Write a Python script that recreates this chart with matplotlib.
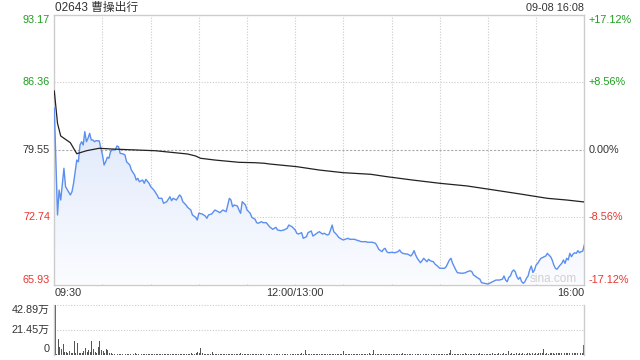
import numpy as np
import matplotlib
matplotlib.use('Agg')
import matplotlib.pyplot as plt
from matplotlib.colors import LinearSegmentedColormap

plt.rcParams['font.family'] = ['Liberation Sans', 'Noto Sans CJK SC', 'DejaVu Sans']

# ---- data ----
title = '02643 曹操出行'
stamp = '09-08 16:08'
prev_close = 79.55
left_ticks = [93.17, 86.36, 79.55, 72.74, 65.93]
right_ticks = ['+17.12%', '+8.56%', '0.00%', '-8.56%', '-17.12%']
time_labels = ['09:30', '12:00/13:00', '16:00']
time_pos = [0, 150, 330]
vol_ticks = [42.89, 21.45, 0]
vol_tick_labels = ['42.89万', '21.45万', '0']

# minute since 09:30 (lunch removed), price
price_min = [0, 2, 3, 4, 6, 7, 10, 11, 12, 14, 15, 16, 17, 18, 19, 20, 21, 22, 23, 24,
             25, 26, 28, 29, 30, 31, 32, 33, 34, 35, 36, 38, 39, 40, 41, 43, 44, 45, 47, 48,
             50, 51, 52, 53, 55, 56, 57, 59, 60, 62, 64, 65, 67, 68, 70, 72, 73, 74, 76, 78,
             79, 80, 82, 83, 85, 86, 88, 89, 90, 92, 94, 95, 96, 98, 100, 102, 103, 105, 107, 108,
             109, 110, 111, 112, 114, 115, 116, 117, 119, 120, 122, 123, 125, 126, 127, 129, 130, 132, 134, 136,
             138, 139, 141, 143, 145, 146, 148, 150, 151, 152, 154, 155, 157, 158, 160, 161, 162, 164, 165, 167,
             168, 170, 171, 172, 173, 174, 175, 176, 177, 179, 180, 181, 183, 184, 187, 188, 190, 191, 194, 195,
             198, 200, 201, 202, 204, 205, 206, 207, 208, 210, 212, 214, 215, 216, 217, 219, 220, 222, 223, 224,
             225, 226, 228, 229, 230, 232, 233, 234, 236, 237, 239, 240, 243, 244, 246, 247, 248, 249, 250, 251,
             254, 256, 257, 259, 260, 261, 262, 263, 265, 266, 268, 270, 271, 273, 275, 277, 279, 280, 281, 282,
             283, 284, 285, 286, 287, 288, 289, 290, 291, 292, 293, 294, 295, 296, 297, 298, 299, 300, 301, 302,
             303, 304, 305, 306, 307, 308, 309, 310, 311, 312, 313, 314, 315, 316, 317, 318, 319, 320, 321, 322,
             323, 324, 325, 326, 327, 328, 329, 330]
price = [83.74, 72.96, 75.48, 74.47, 77.68, 75.82, 74.98, 75.31, 76.16, 78.51, 78.34, 80.03, 80.36, 80.03, 81.38, 80.36, 80.71, 81.21, 80.54, 80.54,
         80.36, 80.47, 80.44, 79.70, 79.02, 78.01, 78.34, 78.79, 78.69, 79.35, 79.53, 79.53, 79.93, 79.86, 79.19, 79.12, 79.02, 78.34, 78.01, 77.50,
         77.00, 76.49, 76.66, 76.32, 76.49, 76.16, 76.56, 76.16, 75.82, 75.48, 74.98, 74.64, 74.64, 74.14, 74.30, 74.80, 74.40, 74.64, 74.47, 74.98,
         74.80, 74.30, 73.97, 73.73, 73.46, 72.96, 72.72, 72.45, 73.13, 73.06, 72.85, 72.62, 72.96, 73.06, 73.46, 73.29, 73.19, 73.46, 73.29, 73.97,
         74.64, 74.47, 73.79, 73.97, 73.86, 73.46, 73.13, 74.30, 73.97, 73.46, 73.13, 72.72, 72.52, 72.18, 72.12, 72.28, 72.18, 72.18, 71.77, 71.51,
         71.71, 71.44, 71.37, 71.44, 71.61, 71.94, 71.77, 71.44, 71.11, 71.03, 71.17, 70.60, 70.76, 71.17, 71.34, 70.83, 70.93, 71.17, 71.27, 71.03,
         71.11, 70.93, 71.00, 71.44, 71.94, 71.27, 71.11, 70.93, 70.70, 70.50, 70.43, 70.50, 70.60, 70.50, 70.50, 70.43, 70.33, 70.26, 70.26, 70.20,
         70.20, 70.09, 69.82, 69.49, 69.25, 69.49, 69.59, 69.25, 69.14, 69.18, 69.14, 69.25, 69.42, 69.18, 69.08, 69.01, 69.01, 68.81, 69.01, 69.35,
         68.91, 68.58, 68.13, 68.34, 68.58, 68.23, 68.48, 68.34, 68.23, 68.00, 67.73, 67.57, 67.57, 67.73, 68.41, 68.58, 68.07, 67.73, 67.40, 67.12,
         67.06, 67.12, 67.22, 67.32, 67.22, 66.89, 66.79, 66.66, 66.46, 66.11, 66.05, 65.98, 66.05, 66.21, 66.38, 66.38, 66.46, 66.79, 66.38, 66.21,
         66.66, 66.79, 67.22, 67.40, 67.22, 66.72, 66.46, 66.66, 66.21, 66.05, 66.21, 66.56, 66.79, 67.40, 67.80, 67.14, 67.40, 67.90, 68.07, 68.34,
         68.58, 68.65, 68.74, 68.81, 69.08, 68.90, 68.74, 68.41, 67.90, 67.57, 67.47, 67.70, 67.90, 68.07, 68.41, 68.07, 68.58, 68.41, 69.08, 68.74,
         69.01, 69.14, 69.08, 69.35, 69.14, 69.25, 69.30, 69.92]

avg_min = [0, 2, 4, 10, 12, 14, 20, 28, 35, 63, 83, 88, 91, 100, 115, 125, 131, 134, 151, 165,
           180, 197, 207, 223, 240, 257, 271, 290, 307, 319, 330]
avg_price = [85.49, 82.22, 80.94, 80.26, 79.70, 79.15, 79.45, 79.70, 79.63, 79.45, 79.12, 78.92, 78.69, 78.51, 78.28, 78.24, 78.18, 78.11, 77.84, 77.50,
             77.23, 77.07, 76.83, 76.49, 76.16, 75.89, 75.55, 75.08, 74.64, 74.47, 74.27]

# volume per minute, unit: 万
volume = [42.89, 0.8, 13.0, 6.3, 4.9, 8.7, 2.0, 2.0, 1.0, 2.9, 1.1, 1.0, 11.5, 1.0, 9.8, 1.3, 1.3, 1.0, 2.6, 5.2,
          2.0, 4.1, 2.3, 11.5, 4.9, 2.0, 1.0, 6.9, 12.1, 3.5, 2.9, 1.0, 4.9, 4.3, 1.0,
          1.2, 0.6, 0.8, 0.5, 0.4, 0.6, 0.3, 0.5, 0.4, 0.7, 0.3, 0.4, 0.6, 0.3, 0.5, 1.7, 0.4, 0.3, 0.6, 0.5, 0.3, 0.4, 0.8, 0.3, 0.5,
          0.4, 0.6, 0.3, 0.5, 0.4, 0.7, 0.3, 0.5, 0.4, 0.3, 0.6, 0.4, 0.5, 0.3, 0.4, 0.8, 0.3, 0.5, 0.4, 0.6, 0.3, 0.5, 0.4, 0.7, 0.5, 1.0, 0.6, 0.8, 1.2, 2.0,
          1.1, 5.8, 0.9, 0.6, 0.5, 0.4, 0.7, 0.5, 2.2, 0.6, 0.4, 0.8, 0.5, 0.6, 0.4, 0.7, 0.5, 0.3, 0.6, 0.4, 0.5, 0.8, 0.4, 0.6, 0.5, 0.4, 1.6, 0.5, 0.4, 0.6,
          0.5, 0.4, 0.7, 0.3, 0.5, 0.6, 0.4, 0.5, 0.3, 0.6, 0.4, 0.7, 0.5, 0.4, 0.6, 0.8, 4.0, 0.6, 0.5, 0.4, 0.7, 0.5, 0.4, 0.6, 0.5, 0.3, 0.6, 0.5, 0.4, 0.7,
          0.4, 0.6, 0.5, 0.8, 1.0, 0.7, 3.5, 0.6, 0.5, 0.4, 0.7, 0.5, 0.6, 0.4, 0.8, 0.5, 0.6, 0.4, 0.7, 0.5, 0.4, 0.8, 0.6, 0.5, 0.7, 0.4, 0.6, 0.5, 0.8, 0.6,
          2.6, 0.5, 0.7, 0.4, 0.6, 0.8, 0.5, 0.4, 0.7, 0.6, 0.5, 0.8, 0.4, 0.6, 0.5, 0.7, 1.0, 0.6, 0.8, 3.5, 0.6, 0.5, 0.7, 0.4, 0.6, 0.8, 0.5, 0.7, 0.4, 0.6,
          0.5, 0.8, 0.6, 0.4, 0.7, 0.5, 0.6, 0.9, 0.4, 0.6, 0.5, 0.7, 0.4, 0.8, 0.6, 0.5, 0.7, 0.4, 0.6, 0.8, 0.5, 0.7, 0.6, 0.4, 0.8, 0.5, 0.6, 0.7, 0.5, 0.8,
          0.6, 0.4, 0.7, 0.5, 0.8, 0.6, 1.0, 3.5, 0.7, 0.5, 0.6, 0.8, 0.4, 0.7, 0.5, 0.6, 0.9, 0.5, 0.7, 0.4, 0.6, 0.8, 0.5, 0.7, 0.6, 0.9, 0.5, 0.7, 0.6, 0.8,
          0.5, 0.7, 0.6, 0.9, 0.5, 0.8, 0.6, 1.2, 0.7, 0.5, 0.9, 0.6, 0.8, 2.6, 0.7, 1.0, 0.6, 0.8, 1.2, 0.7, 0.9, 0.6, 1.1, 0.8, 0.7, 1.3, 0.9, 0.6, 1.0, 0.8,
          1.2, 0.7, 0.9, 1.4, 1.0, 4.5, 0.8, 1.1, 0.7, 1.3, 0.9, 1.2, 0.8, 1.0, 1.5, 0.9, 1.1, 0.8, 1.3, 1.0, 1.6, 0.9, 1.2, 1.4, 1.0, 1.7, 1.1, 1.3, 1.5, 1.2, 7.8]

GREEN = '#1f9e1f'
RED = '#e8352e'
DARK = '#333333'
GRID = '#cccccc'
BLUE = '#5b8ff0'

fig = plt.figure(figsize=(6.4, 3.6), dpi=100)
ax = fig.add_axes([54.3 / 640, 75.5 / 360, 530 / 640, 269.5 / 360])
axv = fig.add_axes([54.3 / 640, 5.5 / 360, 530 / 640, 49.5 / 360])

ymin, ymax = left_ticks[-1], left_ticks[0]
ax.set_xlim(0, 330)
ax.set_ylim(ymin, ymax)

# grid
for t in range(30, 330, 30):
    ax.axvline(t, color=GRID, lw=0.8, ls=(0, (1, 1.5)), zorder=0)
for v in [86.36, 72.74]:
    ax.axhline(v, color=GRID, lw=0.8, ls=(0, (1, 1.5)), zorder=0)
ax.axhline(prev_close, color='#aaaaaa', lw=0.8, ls=(0, (2, 1.5)), zorder=0)

# gradient fill under price
poly = ax.fill_between(price_min, price, ymin, color='none', lw=0)
cmap = LinearSegmentedColormap.from_list('g', ['#fbfcff', '#cddcf8'])
grad = np.linspace(0, 1, 256).reshape(-1, 1)
im = ax.imshow(grad, cmap=cmap, origin='lower', aspect='auto',
               extent=[0, 330, ymin, ymax], zorder=1)
im.set_clip_path(poly.get_paths()[0], transform=ax.transData)

ax.plot(price_min, price, color=BLUE, lw=1.0, zorder=3)
ax.plot(avg_min, avg_price, color='#222222', lw=0.9, zorder=3)

ax.set_xticks([])
ax.set_yticks([])
for s in ax.spines.values():
    s.set_color(GRID)
    s.set_linewidth(1)

# y labels
lcolors = [GREEN, GREEN, DARK, RED, RED]
vas = ['top', 'center', 'center', 'center', 'bottom']
for v, rl, c, va in zip(left_ticks, right_ticks, lcolors, vas):
    ax.text(-0.008, v, f'{v:.2f}', color=c, ha='right', va=va, fontsize=7.8,
            transform=ax.get_yaxis_transform())
    ax.text(1.008, v, rl, color=c, ha='left', va=va, fontsize=7.8,
            transform=ax.get_yaxis_transform())

# time labels
for lab, pos, ha in zip(time_labels, time_pos, ['left', 'center', 'right']):
    ax.text(pos, -0.032, lab, ha=ha, va='center', fontsize=7.8, color=DARK,
            transform=ax.get_xaxis_transform())

ax.text(0.941, 0.022, 'sina.com', color='#d0d0d0', fontsize=8.5, ha='center',
        va='center', transform=ax.transAxes, zorder=2)

fig.text(55 / 640, 1 - 7.5 / 360, title, fontsize=8.5, color=DARK, ha='left', va='center')
fig.text(584 / 640, 1 - 8 / 360, stamp, fontsize=7.8, color=DARK, ha='right', va='center')

# volume panel
axv.bar(np.arange(len(volume)), volume, width=0.6, align='edge', color='#555555', lw=0)
axv.set_xlim(-0.2, 330.6)
axv.set_ylim(0, vol_ticks[0])
axv.set_xticks([])
axv.set_yticks([])
for v in vol_ticks[:2]:
    axv.axhline(v, color=GRID, lw=0.8, ls=(0, (1, 1.5)), zorder=0, clip_on=False)
for k in ['top', 'bottom']:
    axv.spines[k].set_visible(False)
for k in ['left', 'right']:
    axv.spines[k].set_color(GRID)
    axv.spines[k].set_linewidth(1)
for v, lab, va in zip(vol_ticks, vol_tick_labels, ['top', 'center', 'bottom']):
    axv.text(-0.008, v, lab, ha='right', va=va, fontsize=7.8, color=DARK,
             transform=axv.get_yaxis_transform())

fig.savefig('out.png', dpi=100)
